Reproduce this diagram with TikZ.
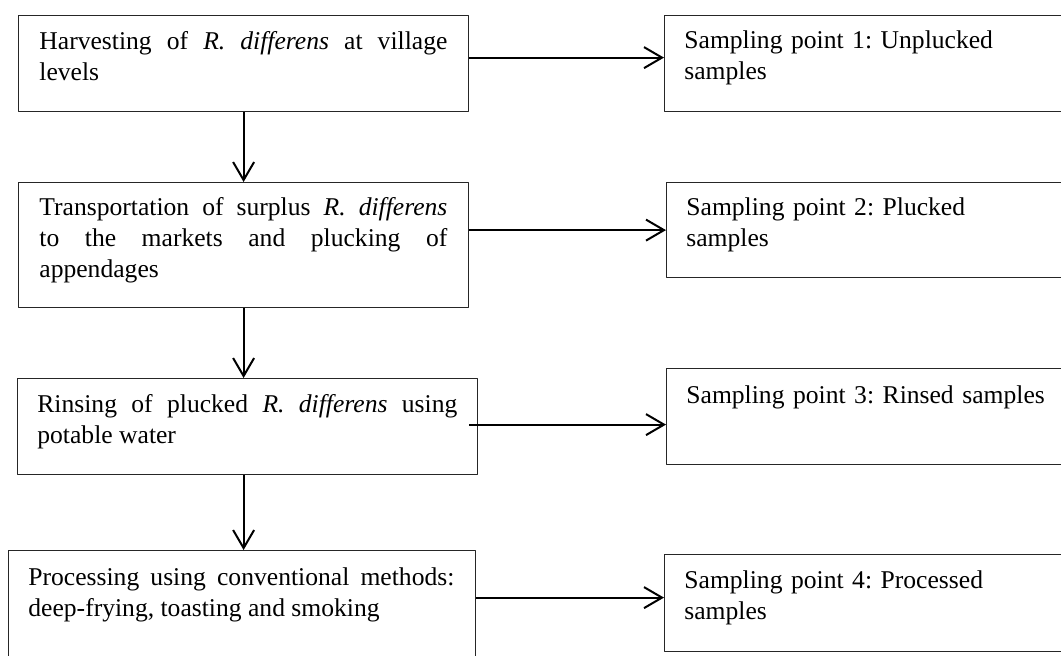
\documentclass[tikz,border=0pt]{standalone}
\usepackage{fontspec}
\setmainfont{Liberation Serif}
\usetikzlibrary{arrows.meta}
\frenchspacing

\begin{document}
\begin{tikzpicture}[x=0.5pt, y=-0.5pt, line join=round, >={Straight Barb[length=9pt,width=10.5pt]},
  box/.style={draw=black!85, line width=0.6pt, inner sep=0pt, anchor=north west},
  txt/.style={anchor=base west, inner sep=0pt, font=\fontsize{12.8}{15.5}\selectfont},
  flow/.style={->, line width=1pt}]
\useasboundingbox (0,0) rectangle (1061,655);

% process steps
\node[box, minimum width=225pt, minimum height=48pt] (h1) at (18,15) {};
\node[box, minimum width=225pt, minimum height=62.5pt] (h2) at (18,182) {};
\node[box, minimum width=230pt, minimum height=48pt] (h3) at (17,378) {};
\node[box, minimum width=233.5pt, minimum height=58pt] (h4) at (8,550) {};

% sampling points
\node[box, minimum width=210pt, minimum height=48pt] (s1) at (664,15) {};
\node[box, minimum width=210pt, minimum height=47.5pt] (s2) at (666,182) {};
\node[box, minimum width=210pt, minimum height=48pt] (s3) at (666,368) {};
\node[box, minimum width=210pt, minimum height=48.5pt] (s4) at (664,554) {};

\node[txt, text width=204pt, align=justify] (t1) at ([shift={(21,34)}]h1.north west)
  {Harvesting of \textit{R. differens} at village\linebreak levels};
\node[txt, text width=204pt, align=justify] (t2) at ([shift={(21,33)}]h2.north west)
  {Transportation of surplus \textit{R. differens}\linebreak to the markets and plucking of\linebreak appendages};
\node[txt, text width=210pt, align=justify] (t3) at ([shift={(20,34)}]h3.north west)
  {Rinsing of plucked \textit{R. differens} using\linebreak potable water};
\node[txt, text width=213pt, align=justify] (t4) at ([shift={(20,35)}]h4.north west)
  {Processing using conventional methods:\linebreak deep-frying, toasting and smoking};

\node[txt, text width=195pt, align=left] (u1) at ([shift={(20,33)}]s1.north west)
  {Sampling point 1: Unplucked\\samples};
\node[txt, text width=195pt, align=left] (u2) at ([shift={(20,33)}]s2.north west)
  {Sampling point 2: Plucked\\samples};
\node[txt, text width=195pt, align=left] (u3) at ([shift={(20,35)}]s3.north west)
  {Sampling point 3: Rinsed samples};
\node[txt, text width=195pt, align=left] (u4) at ([shift={(20,34)}]s4.north west)
  {Sampling point 4: Processed\\samples};

% down the chain
\draw[flow] (h1.south) -- (h1.south |- h2.north);
\draw[flow] (h1.south |- h2.south) -- (h1.south |- h3.north);
\draw[flow] (h1.south |- h3.south) -- (h1.south |- h4.north);

% out to the sampling points
\draw[flow] ([yshift=3pt]s1.west -| h1.east) -- ([yshift=3pt]s1.west);
\draw[flow] (s2.west -| h2.east) -- (s2.west);
\draw[flow] ([yshift=-4pt]s3.west -| h1.east) -- ([yshift=-4pt]s3.west);
\draw[flow] ([yshift=2.75pt]s4.west -| h4.east) -- ([yshift=2.75pt]s4.west);
\end{tikzpicture}
\end{document}
